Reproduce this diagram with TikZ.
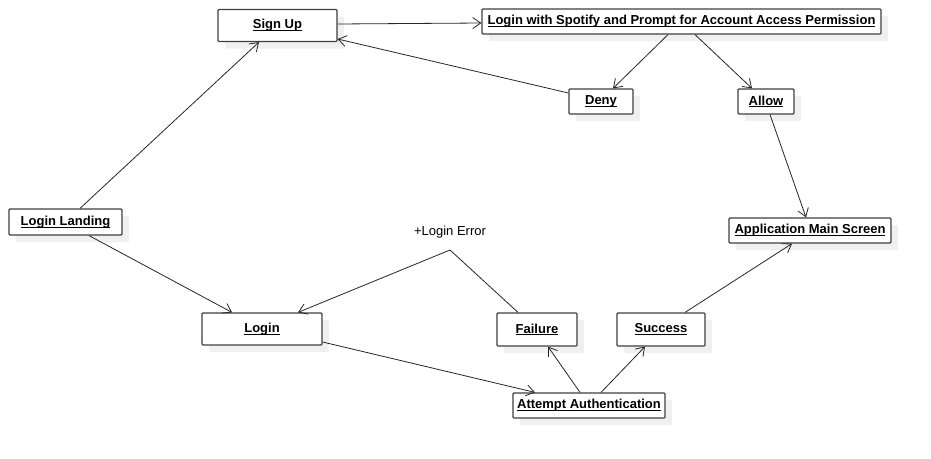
\documentclass[tikz,border=0pt]{standalone}
\usepackage{fontspec}
\setmainfont{Liberation Sans}
\usetikzlibrary{arrows.meta,shadows}
\newcommand\objname[1]{\setbox0\hbox{\textbf{#1}}\copy0\llap{\rule[-2.2pt]{\wd0}{0.9pt}}}

\begin{document}
\begin{tikzpicture}[x=1pt, y=-1pt, font=\fontsize{13}{15}\selectfont,
	state/.style={draw=black!75, line width=1.2pt, fill=white, rounded corners=1pt, inner sep=2pt,
		drop shadow={shadow xshift=7pt, shadow yshift=-7pt, fill=black!6, opacity=1}},
	trans/.style={-{Straight Barb[length=8pt,width=11pt]}, line width=0.8pt, draw=black!85}]
\fill[white] (0,0) rectangle (931,458);
\node[state, minimum width=119, minimum height=32] (signup) at (277.5,25.5) {\objname{Sign Up}};
\node[state, minimum width=399, minimum height=25] (spotify) at (681.5,21.5) {\objname{Login with Spotify and Prompt for Account Access Permission}};
\node[state, minimum width=64, minimum height=25] (deny) at (601,101.5) {\objname{Deny}};
\node[state, minimum width=56, minimum height=25] (allow) at (766,101.5) {\objname{Allow}};
\node[state, minimum width=113, minimum height=26] (landing) at (65.5,222) {\objname{Login Landing}};
\node[state, minimum width=162, minimum height=25] (appmain) at (810,230.5) {\objname{Application Main Screen}};
\node[state, minimum width=120, minimum height=32] (login) at (262,329) {\objname{Login}};
\node[state, minimum width=80, minimum height=33] (failure) at (537,329.5) {\objname{Failure}};
\node[state, minimum width=88, minimum height=33] (success) at (661,329.5) {\objname{Success}};
\node[state, minimum width=152, minimum height=25] (attempt) at (589,405.5) {\objname{Attempt Authentication}};
% login error bend
\coordinate (err) at (450,250);
\node (errlabel) at (450,232) {+Login Error};

\draw[trans] ([xshift=14.5]landing.north) -- ([xshift=-18.5]signup.south);
\draw[trans] ([yshift=1.5]signup.east) -- ([yshift=-1.5]spotify.west);
\draw[trans] ([yshift=8.5]deny.west) -- ([yshift=-13.5]signup.east);
\draw[trans] ([xshift=-13.5]spotify.south) -- ([xshift=12]deny.north);
\draw[trans] ([xshift=13.5]spotify.south) -- ([xshift=-14]allow.north);
\draw[trans] ([xshift=4]allow.south) -- ([xshift=-4]appmain.north);
\draw[trans] ([xshift=23.5]landing.south) -- ([xshift=-30]login.north);
\draw[trans] ([xshift=-19]failure.north) -- (err) -- ([xshift=36]login.north);
\draw[trans] ([yshift=-13]login.east) -- ([xshift=-54]attempt.north);
\draw[trans] ([xshift=-9]attempt.north) -- ([xshift=11]failure.south);
\draw[trans] ([xshift=12]attempt.north) -- ([xshift=-16]success.south);
\draw[trans] ([xshift=24]success.north) -- ([xshift=-18]appmain.south);
\end{tikzpicture}
\end{document}
